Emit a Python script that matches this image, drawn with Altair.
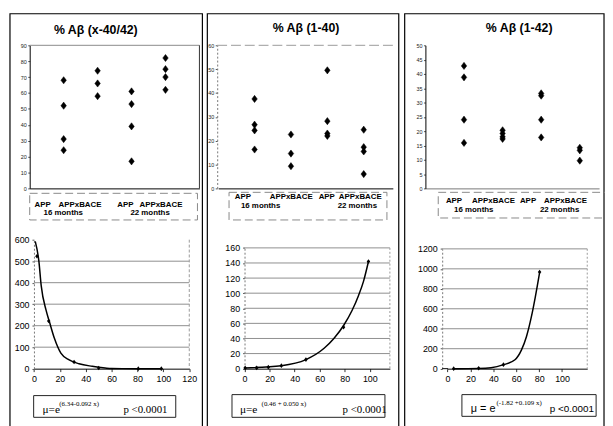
import altair as alt
import pandas as pd

# ---------------- data ----------------
categories = ["APP 16 months", "APPxBACE 16 months", "APP 22 months", "APPxBACE 22 months"]

# % Abeta (x-40/42)
x4042_app16 = [68, 52, 31, 24]
x4042_bace16 = [74, 66, 58]
x4042_app22 = [61, 53, 39, 17]
x4042_bace22 = [82, 75, 70, 62]

# % Abeta (1-40)
a40_app16 = [37.5, 26.7, 24.3, 16.3]
a40_bace16 = [22.6, 14.6, 9.3]
a40_app22 = [49.5, 28.2, 23.0, 22.0]
a40_bace22 = [24.6, 17.3, 15.5, 6.0]

# % Abeta (1-42)
a42_app16 = [42.8, 38.8, 24.0, 15.9]
a42_bace16 = [20.3, 19.2, 18.0, 17.3]
a42_app22 = [33.2, 32.4, 24.0, 17.8]
a42_bace22 = [14.2, 13.3, 9.7]

# lower panels: fitted curve and observed points
fit1_x = [1, 3.8, 5.6, 9.4, 12, 15.8, 20.8, 27.2, 34.8, 45, 55, 60, 80, 99]
fit1_y = [592, 500, 386, 271, 217, 141, 72, 41, 23, 11, 3, 0.5, 0, 0]
obs1_x = [2.3, 11.4, 31, 50, 80.6, 98.4]
obs1_y = [523, 222, 31, 3, 0, 0]

fit2_x = [0.5, 29.4, 49, 63.5, 71.3, 79.2, 85.8, 91, 95, 98.9]
fit2_y = [1, 4, 12, 27, 40, 57.5, 77, 97, 116, 142]
obs2_x = [0.5, 9.7, 19, 29.4, 49, 79, 98.9]
obs2_y = [1, 1, 2, 4, 12, 55, 142]

fit3_x = [5, 27, 38, 49, 58.9, 64.6, 68.9, 73.2, 76.6, 80.4]
fit3_y = [0, 3, 10, 40, 89, 188, 320, 518, 715, 962]
obs3_x = [5.4, 27.2, 48.8, 80.4]
obs3_y = [0, 4, 40, 968]

titles = ["% Aβ (x-40/42)", "% Aβ (1-40)", "% Aβ (1-42)"]
formula_main = ["μ=e", "μ=e", "μ = e"]
formula_exp = ["(6.34-0.092 x)", "(0.46 + 0.050 x)", "(-1.82 +0.109 x)"]
pvalue = "p <0.0001"

top_yticks = [list(range(0, 91, 10)), list(range(0, 61, 10)), list(range(0, 51, 5))]
bot_yticks = [list(range(0, 601, 100)), list(range(0, 161, 20)), list(range(0, 1201, 200))]
bot_xticks = [list(range(0, 121, 20)), list(range(0, 101, 20)), list(range(0, 101, 20))]
bot_grid = [list(range(100, 501, 100)), list(range(20, 161, 20)), list(range(200, 1201, 200))]

# ---------------- layout helpers ----------------
W, H = 605, 418
ONE = pd.DataFrame({"k": [0]})
SANS = "Liberation Sans"
SERIF = "Liberation Serif"
DIAMOND = "M0,-1.25L0.95,0L0,1.25L-0.95,0Z"
GRID = "#8e8e8e"


def c(v):
    return v - 8


def lin(dom, rng):
    return alt.Scale(domain=dom, range=[c(r) for r in rng], nice=False, zero=False)


def txt(s, x, y, size=8, weight="normal", font=SANS, align="center", color="black"):
    return alt.Chart(ONE).mark_text(
        text=s, fontSize=size, fontWeight=weight, font=font, align=align,
        baseline="alphabetic", color=color
    ).encode(x=alt.value(c(x)), y=alt.value(c(y)))


def hline(x1, x2, y, color="black", width=1.0, dash=None):
    kw = dict(color=color, strokeWidth=width)
    if dash:
        kw["strokeDash"] = dash
    return alt.Chart(ONE).mark_rule(**kw).encode(
        x=alt.value(c(x1)), x2=alt.value(c(x2)), y=alt.value(c(y)))


def vline(x, y1, y2, color="black", width=1.0, dash=None):
    kw = dict(color=color, strokeWidth=width)
    if dash:
        kw["strokeDash"] = dash
    return alt.Chart(ONE).mark_rule(**kw).encode(
        x=alt.value(c(x)), y=alt.value(c(y1)), y2=alt.value(c(y2)))


def box(x1, x2, y1, y2, color="black", width=1.0, dash=None):
    kw = dict(fillOpacity=0, stroke=color, strokeWidth=width)
    if dash:
        kw["strokeDash"] = dash
    return alt.Chart(ONE).mark_rect(**kw).encode(
        x=alt.value(c(x1)), x2=alt.value(c(x2)), y=alt.value(c(y1)), y2=alt.value(c(y2)))


def scatter(groups, xdom, xr, ydom, yticks, yaxis_x, ycol, ydash, xcol):
    rows = [{"cat": categories[i], "pos": i + 1, "val": v}
            for i, g in enumerate(groups) for v in g]
    df = pd.DataFrame(rows)
    yk = dict(orient="left", offset=-c(yaxis_x), values=yticks, labelFontSize=5.5,
              labelFont=SANS, labelColor="#222", tickSize=2, tickColor="#555",
              labelPadding=1.5, domainColor=ycol, grid=False, title=None,
              labelOverlap=False, labelFlush=False, format="d")
    if ydash:
        yk["domainDash"] = ydash
    xaxis = alt.Axis(orient="bottom", offset=c(188) - H, labels=False, ticks=False,
                     grid=False, title=None, domainColor=xcol)
    return alt.Chart(df).mark_point(
        shape=DIAMOND, filled=True, fill="black", stroke="black", strokeWidth=0.5,
        size=34, opacity=1
    ).encode(
        x=alt.X("pos:Q", scale=lin(xdom, xr), axis=xaxis),
        y=alt.Y("val:Q", scale=lin(ydom, [188, 43]), axis=alt.Axis(**yk)),
    )


def bottom(fx, fy, ox, oy, xdom, xr, ydom, yr, xticks, yticks, grid, yaxis_x, gx2):
    xs = lin(xdom, xr)
    ys = lin(ydom, yr)
    xaxis = alt.Axis(orient="bottom", offset=c(yr[0]) - H, values=xticks, labelFontSize=9,
                     labelFont=SANS, labelColor="black", tickSize=3, tickColor="#333",
                     labelPadding=3, domainColor="black", grid=False, title=None,
                     labelOverlap=False, labelFlush=False, format="d")
    yaxis = alt.Axis(orient="left", offset=-c(yaxis_x), values=yticks, labelFontSize=9,
                     labelFont=SANS, labelColor="black", tickSize=2, tickColor="#555",
                     labelPadding=3, domainColor="#777", domainDash=[2, 2], grid=False,
                     title=None, labelOverlap=False, labelFlush=False, format="d")
    gl = alt.Chart(pd.DataFrame({"g": grid})).mark_rule(color=GRID, strokeWidth=1).encode(
        y=alt.Y("g:Q", scale=ys, axis=None), x=alt.value(c(yaxis_x)), x2=alt.value(c(gx2)))
    curve = alt.Chart(pd.DataFrame({"x": fx, "y": fy})).mark_line(
        color="black", strokeWidth=1.5, interpolate="monotone"
    ).encode(x=alt.X("x:Q", scale=xs, axis=xaxis), y=alt.Y("y:Q", scale=ys, axis=yaxis))
    pts = alt.Chart(pd.DataFrame({"x": ox, "y": oy})).mark_point(
        shape=DIAMOND, filled=True, fill="black", size=14, opacity=1
    ).encode(x=alt.X("x:Q", scale=xs, axis=None), y=alt.Y("y:Q", scale=ys, axis=None))
    return [gl, curve, pts]


layers = []

# panel borders
layers += [box(10, 205, 11, 440, width=1.2), box(210, 404, 11, 440, width=1.2),
           box(410, 612, 11, 440, width=1.2)]

# titles
layers += [txt(titles[0], 97, 32, size=12.5, weight="bold"),
           txt(titles[1], 310, 30, size=12.5, weight="bold"),
           txt(titles[2], 526, 30, size=12.5, weight="bold")]

# top scatter frames
layers += [hline(30, 202, 43, color="#888"), vline(202, 43, 188, color="#333"),
           hline(220, 398, 43, color="#999", dash=[10, 4])]

# top scatters
layers.append(scatter([x4042_app16, x4042_bace16, x4042_app22, x4042_bace22],
                      [0, 5], [30, 202], [0, 90], top_yticks[0], 30, "black", None, "black"))
layers.append(scatter([a40_app16, a40_bace16, a40_app22, a40_bace22],
                      [0, 4.8], [221, 398], [0, 60], top_yticks[1], 220, "#777", [2, 2], "black"))
layers.append(scatter([a42_app16, a42_bace16, a42_app22, a42_bace22],
                      [0, 4.5], [431, 607], [0, 50], top_yticks[2], 431, "black", None, "#777"))

# category label boxes and labels
layers += [box(30, 200, 193, 220, color="#888", dash=[8, 4]),
           box(232, 392, 192, 220, color="#888", dash=[8, 4]),
           box(444, 616, 192, 218, color="#888", dash=[8, 4])]
label_layout = [
    (["APP", "APPxBACE", "APP", "APPxBACE"], [43, 81, 127, 163], 206.5, [64, 152], 215),
    (["APP", "APPxBACE", "APP", "APPxBACE"], [246, 295, 331, 365], 199, [264, 362], 207.5),
    (["APP", "APPxBACE", "APP", "APPxBACE"], [460, 500, 535, 573], 203, [480, 567], 212),
]
for names, xs_, y1, xs2, y2 in label_layout:
    for n, xx in zip(names, xs_):
        layers.append(txt(n, xx, y1, size=8, weight="bold"))
    layers.append(txt("16 months", xs2[0], y2, size=8, weight="bold"))
    layers.append(txt("22 months", xs2[1], y2, size=8, weight="bold"))

# bottom panels
layers += bottom(fit1_x, fit1_y, obs1_x, obs1_y, [0, 120], [34.3, 191.7], [0, 600],
                 [370.7, 240], bot_xticks[0], bot_yticks[0], bot_grid[0], 34.3, 191.7)
layers += bottom(fit2_x, fit2_y, obs2_x, obs2_y, [0, 116], [247.7, 395], [0, 160],
                 [370.7, 248.3], bot_xticks[1], bot_yticks[1], bot_grid[1], 247.7, 395)
layers += bottom(fit3_x, fit3_y, obs3_x, obs3_y, [0, 122], [453.4, 595], [0, 1200],
                 [370.7, 249.3], bot_xticks[2], bot_yticks[2], bot_grid[2], 448, 595)

# bottom frames
layers += [vline(191.7, 240, 370.7, color="#999", dash=[3, 2]),
           vline(395, 248.3, 370.7, color="#999", dash=[2, 2]),
           vline(595, 249.3, 370.7, color="#999", dash=[2, 2]),
           hline(448, 454, 370.7, color="black")]

# formula boxes
layers += [box(34, 178, 398, 420, color="#222"),
           box(235, 390, 397, 420, color="#222"),
           box(468, 604, 397, 419, color="#222")]
layers += [txt(formula_main[0], 43, 416, size=11.5, font=SERIF, align="left"),
           txt(formula_exp[0], 60, 409, size=7, font=SERIF, align="left"),
           txt(pvalue, 125, 416, size=11, font=SERIF, align="left"),
           txt(formula_main[1], 243, 416, size=11.5, font=SERIF, align="left"),
           txt(formula_exp[1], 265, 409, size=7, font=SERIF, align="left"),
           txt(pvalue, 347, 416, size=11, font=SERIF, align="left"),
           txt(formula_main[2], 477, 415, size=11, font=SANS, align="left"),
           txt(formula_exp[2], 503, 408, size=7, font=SERIF, align="left"),
           txt(pvalue, 557, 415, size=10, font=SANS, align="left")]

chart = alt.layer(*layers).resolve_scale(x="independent", y="independent").properties(
    width=W, height=H, autosize=alt.AutoSizeParams(type="none"), padding=0,
    background="white"
).configure_view(strokeWidth=0)

chart.save("out.html", embed_options={"renderer": "svg", "actions": False})
